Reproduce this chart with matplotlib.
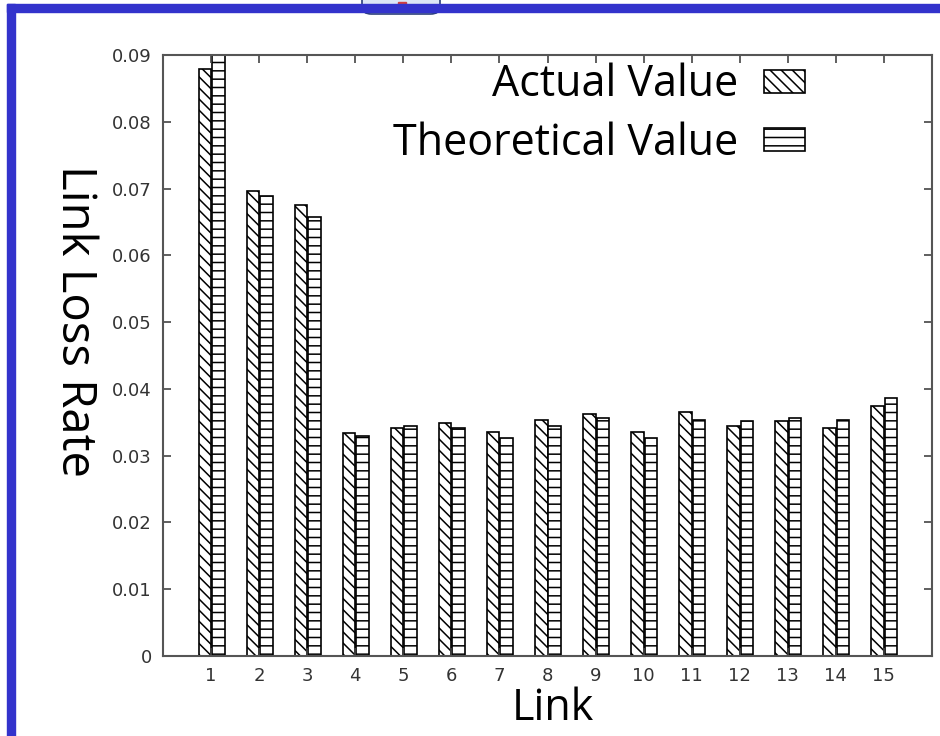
import matplotlib
matplotlib.use("Agg")
import matplotlib.pyplot as plt
from matplotlib.patches import Rectangle, FancyBboxPatch

# Link loss rate per link
links = list(range(1, 16))
actual = [0.0879, 0.0696, 0.0675, 0.0334, 0.0341, 0.0349, 0.0336, 0.0353,
          0.0362, 0.0336, 0.0365, 0.0345, 0.0352, 0.0341, 0.0374]
theoretical = [0.0915, 0.0689, 0.0657, 0.0330, 0.0345, 0.0341, 0.0326, 0.0345,
               0.0356, 0.0327, 0.0353, 0.0352, 0.0357, 0.0353, 0.0386]
yticks = [0, 0.01, 0.02, 0.03, 0.04, 0.05, 0.06, 0.07, 0.08, 0.09]
ytick_labels = ["0", "0.01", "0.02", "0.03", "0.04", "0.05", "0.06", "0.07", "0.08", "0.09"]

plt.rcParams['hatch.linewidth'] = 1.1

fig = plt.figure(figsize=(9.4, 7.36), dpi=100)
ax = fig.add_axes([163 / 940, 80 / 736, 769 / 940, 601 / 736])

width = 0.26
xa = [x - 0.13 for x in links]
xt = [x + 0.15 for x in links]
ax.bar(xa, actual, width=width, color='white', edgecolor='black',
       linewidth=1.2, hatch='\\\\\\', label='Actual Value')
ax.bar(xt, theoretical, width=width, color='white', edgecolor='black',
       linewidth=1.2, hatch='--', label='Theoretical Value')

ax.set_xlim(0, 16)
ax.set_ylim(0, 0.09)
ax.set_xticks(links)
ax.set_xticklabels([str(x) for x in links])
ax.set_yticks(yticks)
ax.set_yticklabels(ytick_labels)
ax.tick_params(direction='in', length=6, width=1.2, pad=8, top=True, right=True,
               labelsize=13, labelcolor='#333333', color='#444444')
for s in ax.spines.values():
    s.set_color('#555555')
    s.set_linewidth(1.5)

leg = ax.legend(loc='upper right', bbox_to_anchor=((805 - 163) / 769, (656 - 63) / 601),
                bbox_transform=ax.transAxes, frameon=False, markerfirst=False,
                prop={'family': 'Open Sans', 'size': 31}, handlelength=0.95,
                handleheight=0.45, handletextpad=0.6, labelspacing=0.32,
                borderpad=0, borderaxespad=0)

fig.text(75 / 940, 1 - 321 / 736, "Link Loss Rate", rotation=270, ha='center',
         va='center', family='Open Sans', fontsize=34)
fig.text(553 / 940, 1 - 720 / 736, "Link", ha='center', va='baseline',
         family='Open Sans', fontsize=31)

# blue slide frame (top and left only) and the little tab above it
tab = FancyBboxPatch((362 / 940, 1 - 14 / 736), 78 / 940, 40 / 736,
                     boxstyle='round,pad=0,rounding_size=0.01',
                     transform=fig.transFigure, facecolor='#dce6f6',
                     edgecolor='#2b3f7a', linewidth=1.2, zorder=1)
fig.patches.append(tab)
fig.patches.append(Rectangle((398 / 940, 1 - 5 / 736), 8 / 940, 3 / 736,
                             transform=fig.transFigure, color='#d04040', zorder=2))
fig.patches.append(Rectangle((7 / 940, 1 - 12 / 736), 933 / 940, 8 / 736,
                             transform=fig.transFigure, color='#3333cc', zorder=3))
fig.patches.append(Rectangle((7 / 940, 0), 8 / 940, 1 - 4 / 736,
                             transform=fig.transFigure, color='#3333cc', zorder=3))

fig.savefig("out.png", dpi=100)
